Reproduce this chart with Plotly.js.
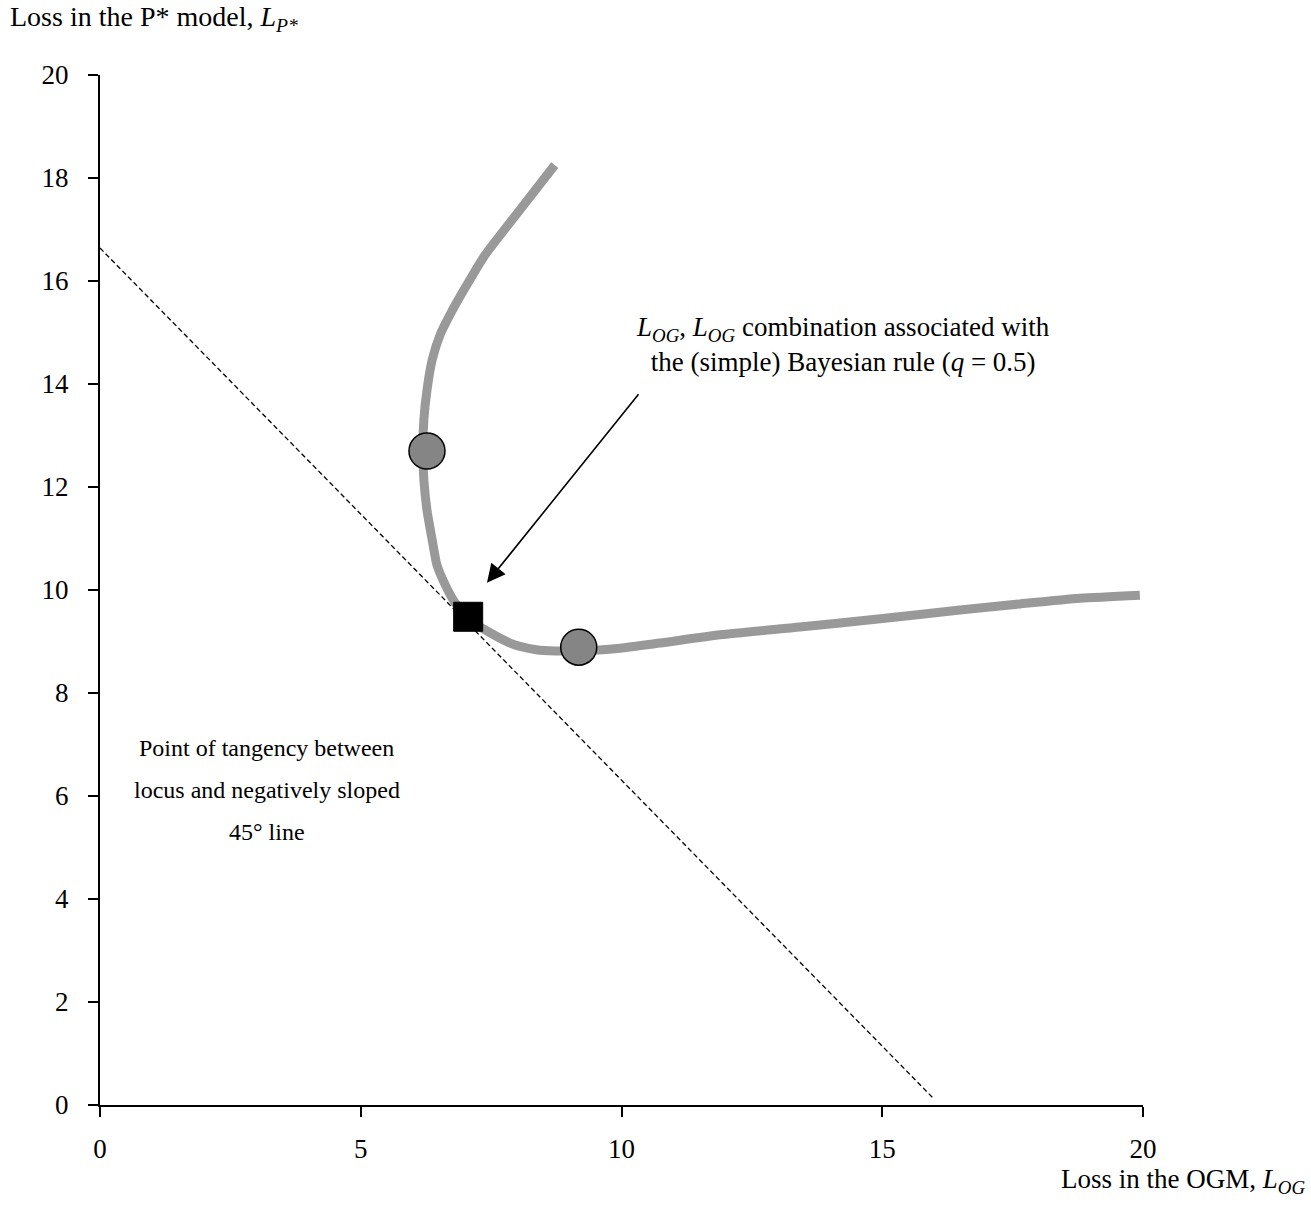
<!DOCTYPE html>
<html><head><meta charset="utf-8">
<script src="https://cdn.plot.ly/plotly-3.0.1.min.js"></script>
<style>html,body{margin:0;padding:0;background:#fff}</style>
</head><body><div id="chart" style="width:1311px;height:1228px"></div>
<script>
// Locus of (L_OG, L_P*) combinations
const locusX = [8.72, 8.05, 7.38, 7.09, 6.81, 6.52, 6.37, 6.27, 6.21, 6.19, 6.21, 6.27, 6.37, 6.46, 6.62, 6.81, 7.09, 7.48, 7.96, 8.44, 9.20, 9.97, 10.74, 11.89, 13.42, 14.96, 16.49, 17.64, 18.79, 19.94];
const locusY = [18.25, 17.38, 16.50, 16.02, 15.53, 14.95, 14.47, 13.88, 13.30, 12.72, 12.14, 11.55, 10.97, 10.49, 10.10, 9.75, 9.42, 9.17, 8.93, 8.83, 8.82, 8.87, 8.97, 9.13, 9.28, 9.44, 9.61, 9.73, 9.84, 9.90];
// Marked circles
const circleX = [6.27, 9.18];
const circleY = [12.70, 8.89];
// Bayesian rule point (square)
const squareX = [7.06];
const squareY = [9.48];
// Negatively sloped 45° line
const lineX = [0, 15.97];
const lineY = [16.64, 0.14];
const tickVals = [0, 5, 10, 15, 20];
const yTickVals = [0, 2, 4, 6, 8, 10, 12, 14, 16, 18, 20];
const tangencyLines = ['Point of tangency between', 'locus and negatively sloped', '45° line'];
const tangencyY = [6.93, 6.12, 5.30];

const serif = "Liberation Serif, Times New Roman, serif";

const traces = [
  {x: lineX, y: lineY, mode: 'lines', line: {color: '#000', width: 1.3, dash: '5px,3px'}, hoverinfo: 'skip'},
  {x: locusX, y: locusY, mode: 'lines', line: {color: '#999999', width: 9, shape: 'spline', smoothing: 0.6}, hoverinfo: 'skip'},
  {x: circleX, y: circleY, mode: 'markers', marker: {symbol: 'circle', size: 36, color: '#858585', line: {color: '#000', width: 1.5}}, hoverinfo: 'skip'},
  {x: squareX, y: squareY, mode: 'markers', marker: {symbol: 'square', size: 29, color: '#000', line: {color: '#000', width: 1}}, hoverinfo: 'skip'}
];

const annotations = [
  {xref: 'paper', yref: 'paper', x: -0.0885, y: 1.0545, xanchor: 'left', yanchor: 'middle', showarrow: false,
   text: 'Loss in the P* model, <i>L<sub>P*</sub></i>', font: {family: serif, size: 28, color: '#000'}},
  {xref: 'paper', yref: 'paper', x: 1.157, y: -0.0738, xanchor: 'right', yanchor: 'middle', showarrow: false,
   text: 'Loss in the OGM, <i>L<sub>OG</sub></i>', font: {family: serif, size: 27, color: '#000'}},
  {xref: 'x', yref: 'y', x: 14.25, y: 14.76, showarrow: false, align: 'center',
   text: '<i>L<sub>OG</sub></i>, <i>L<sub>OG</sub></i> combination associated with<br>the (simple) Bayesian rule (<i>q</i> = 0.5)',
   font: {family: serif, size: 27, color: '#000'}},
  {xref: 'x', yref: 'y', x: 7.42, y: 10.14, ax: 10.35, ay: 13.83, axref: 'x', ayref: 'y', text: '',
   showarrow: true, arrowhead: 2, arrowsize: 2.3, arrowwidth: 1.6, arrowcolor: '#000', standoff: 0}
];
tangencyLines.forEach((t, i) => annotations.push({
  xref: 'x', yref: 'y', x: 3.2, y: tangencyY[i], showarrow: false, text: t,
  font: {family: serif, size: 24, color: '#000'}
}));

const layout = {
  width: 1311, height: 1228,
  margin: {l: 100, r: 168, t: 75, b: 123},
  showlegend: false,
  paper_bgcolor: '#fff', plot_bgcolor: '#fff',
  xaxis: {range: [0, 20], tickvals: tickVals, ticks: 'outside', ticklen: 10, tickwidth: 2, tickcolor: '#000',
          showline: true, linecolor: '#000', linewidth: 2, showgrid: false, zeroline: false, ticklabelstandoff: 9,
          tickfont: {family: serif, size: 27, color: '#000'}},
  yaxis: {range: [0, 20], tickvals: yTickVals, ticks: 'outside', ticklen: 10, tickwidth: 2, tickcolor: '#000',
          showline: true, linecolor: '#000', linewidth: 2, showgrid: false, zeroline: false, ticklabelstandoff: 14,
          tickfont: {family: serif, size: 27, color: '#000'}},
  annotations: annotations
};

Plotly.newPlot('chart', traces, layout, {staticPlot: true});
</script>
</body></html>
